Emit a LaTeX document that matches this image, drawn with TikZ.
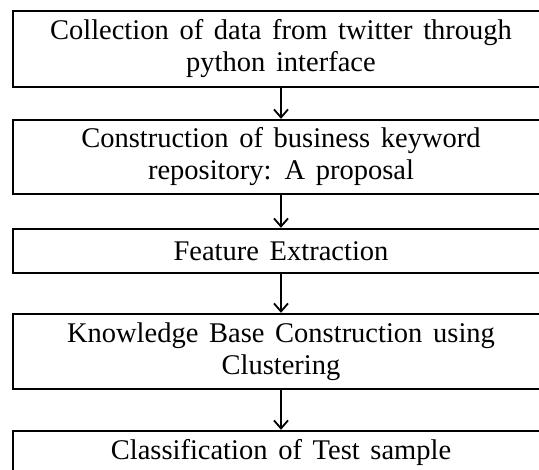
\documentclass[tikz,border=0pt]{standalone}
\usepackage{fontspec}
\setmainfont[WordSpace=1.5]{Liberation Serif}
\usetikzlibrary{arrows.meta}
\begin{document}
\begin{tikzpicture}[x=1pt,y=-1pt,
  box/.style={draw, line width=2.4pt, minimum width=536pt, inner sep=0pt,
    font=\fontsize{28.5}{32}\selectfont, align=center},
  arr/.style={line width=1.8pt, -{Straight Barb[length=8pt,width=14pt,line width=1.8pt]}}]
\useasboundingbox (0,0) rectangle (539,470);
\clip (0,0) rectangle (539,470);
\node[box, minimum height=76pt] (b1) at (281,49) {Collection of data from twitter through\\python interface};
\node[box, minimum height=74pt] (b2) at (281,157) {Construction of business keyword\\repository: A proposal};
\node[box, minimum height=44pt] (b3) at (281,251) {Feature Extraction};
\node[box, minimum height=75pt] (b4) at (281,351.5) {Knowledge Base Construction using\\Clustering};
\node[box, minimum height=44pt] (b5) at (281,453) {Classification of Test sample};
\draw[arr] (b1) -- (b2);
\draw[arr] (b2) -- (b3);
\draw[arr] (b3) -- (b4);
\draw[arr] (b4) -- (b5);
\end{tikzpicture}
\end{document}
